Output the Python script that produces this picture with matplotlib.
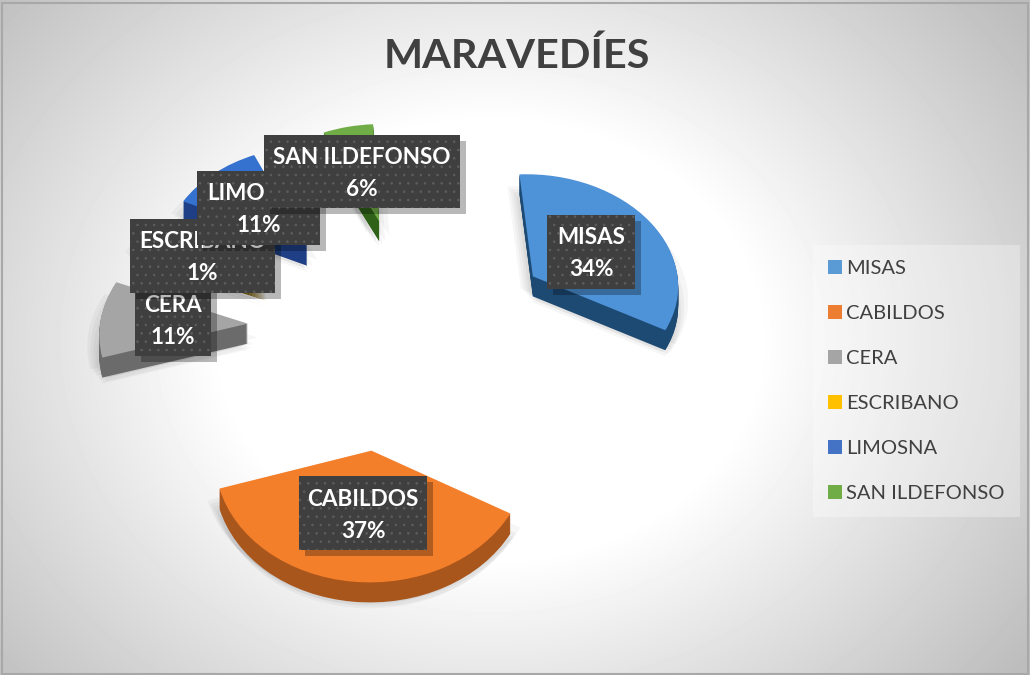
import numpy as np
import matplotlib
matplotlib.use("Agg")
import matplotlib.pyplot as plt
from matplotlib.patches import Wedge, Rectangle, Patch
from matplotlib.transforms import Transform, Affine2D

# ---- data ----
categories = ["MISAS", "CABILDOS", "CERA", "ESCRIBANO", "LIMOSNA", "SAN ILDEFONSO"]
values = [34, 37, 11, 1, 11, 6]
title_text = "MARAVEDÍES"

# ---- style ----
top_colors = ["#4E92D8", "#F47F2B", "#A5A5A5", "#FFC000", "#3572CF", "#70AD47"]
wall_colors = ["#1D4A73", "#A9561D", "#6B6B6B", "#7F6000", "#1E3F85", "#2F6118"]
legend_colors = ["#5B9BD5", "#ED7D31", "#A5A5A5", "#FFC000", "#4472C4", "#70AD47"]
explode_x = [1.08, 1.75, 1.03, 1.01, 0.93, 0.62]  # how far each slice is pulled out, across
explode_y = [0.86, 1.06, 0.50, 1.02, 1.04, 1.01]  # and in depth
label_boxes = {  # x0, y0, x1, y1 in figure pixels, drawn in this order
    "MISAS": (547, 215, 635, 289),
    "CABILDOS": (299, 476, 427, 550),
    "CERA": (135, 282, 211, 356),
    "ESCRIBANO": (130, 219, 275, 293),
    "LIMOSNA": (197, 171, 320, 245),
    "SAN ILDEFONSO": (264, 135, 460, 208),
}
FONT = "Lato"
plt.rcParams["hatch.linewidth"] = 0.6
plt.rcParams["hatch.color"] = "#5E5E5E"


class TiltedPlane(Transform):
    """Projects the flat pie plane onto the screen, nearer parts bigger."""
    input_dims = output_dims = 2

    def __init__(self, cx, cy, rx, ry, k):
        super().__init__()
        self.p = (cx, cy, rx, ry, k)

    def transform_non_affine(self, xy):
        cx, cy, rx, ry, k = self.p
        xy = np.asarray(xy, dtype=float)
        s = 1.0 / (1.0 + k * xy[:, 1])
        return np.column_stack((cx + rx * xy[:, 0] * s, cy - ry * xy[:, 1] * s))


fig = plt.figure(figsize=(10.3, 6.75), dpi=100, facecolor="white")
ax = fig.add_axes([0, 0, 1, 1])

wedges, _ = ax.pie(values, explode=[1.0] * len(values), startangle=93,
                   counterclock=False, colors=top_colors, radius=1.0,
                   wedgeprops=dict(linewidth=0))
ax.set_aspect("auto")

# background gradient
yy, xx = np.mgrid[0:675, 0:1030]
d = np.hypot((xx - 490) / 640, (yy - 340) / 520)
g = np.clip(1.0 - np.clip(d - 0.42, 0, None) * 0.42, 0.74, 1.0)
ax.imshow(g, cmap="gray", vmin=0, vmax=1, extent=[0, 1030, 675, 0],
          aspect="auto", zorder=0, interpolation="bilinear")
ax.set_xlim(0, 1030)
ax.set_ylim(675, 0)
ax.axis("off")
ax.add_patch(Rectangle((2, 3), 1026, 671, fill=False, ec="#A8A8A8", lw=1.5, zorder=1))

plane = TiltedPlane(400, 326, 148, 112, 0.05)
DEPTH = 20
for w, wall, ex, ey in zip(wedges, wall_colors, explode_x, explode_y):
    cx0, cy0 = w.center
    centre = (cx0 * ex, cy0 * ey)
    w.set_center(centre)
    w.set_transform(plane + ax.transData)
    w.set_zorder(4)
    # soft shadow
    for dx, dy in [(-12, 12), (-9, 15), (-6, 18), (-3, 22), (0, 26), (3, 24), (6, 20), (10, 14)]:
        sh = Wedge(centre, w.r, w.theta1, w.theta2, fc="black", alpha=0.035, lw=0, zorder=2,
                   transform=plane + Affine2D().translate(dx, dy) + ax.transData)
        ax.add_patch(sh)
    # side wall
    for d_px in range(1, DEPTH + 1):
        side = Wedge(centre, w.r, w.theta1, w.theta2, fc=wall, lw=0, zorder=3,
                     transform=plane + Affine2D().translate(0, d_px) + ax.transData)
        ax.add_patch(side)

# data labels
z = 10
for name in label_boxes:
    x0, y0, x1, y1 = label_boxes[name]
    pct = values[categories.index(name)]
    ax.add_patch(Rectangle((x0 + 6, y0 + 6), x1 - x0, y1 - y0, fc="black", alpha=0.28, lw=0, zorder=z))
    ax.add_patch(Rectangle((x0, y0), x1 - x0, y1 - y0, fc="#3F3F3F", hatch="..", ec="#5E5E5E",
                           lw=0, zorder=z + 0.1))
    xm = (x0 + x1) / 2
    ax.text(xm, y0 + 23, name, color="white", ha="center", va="center", fontsize=16.2,
            fontweight="bold", family=FONT, zorder=z + 0.2)
    ax.text(xm, y0 + 55, f"{pct}%", color="white", ha="center", va="center", fontsize=16.2,
            fontweight="bold", family=FONT, zorder=z + 0.2)
    z += 1

# title
ax.text(517, 56, title_text, color="#404040", ha="center", va="center", fontsize=29.8,
        fontweight="bold", family=FONT, zorder=5)

# legend
handles = [Patch(fc=c, lw=0, label=n) for c, n in zip(legend_colors, categories)]
leg = ax.legend(handles=handles, loc="upper left", bbox_to_anchor=(813 / 1030, 1 - 245 / 675),
                frameon=True, fancybox=False, framealpha=0.3, facecolor="white", edgecolor="none",
                prop={"family": FONT, "size": 14.5}, labelcolor="#404040",
                handlelength=0.70, handleheight=0.70, handletextpad=0.2,
                labelspacing=1.38, borderpad=0.75, borderaxespad=0)
leg.set_zorder(5)

fig.savefig("out.png", dpi=100)
